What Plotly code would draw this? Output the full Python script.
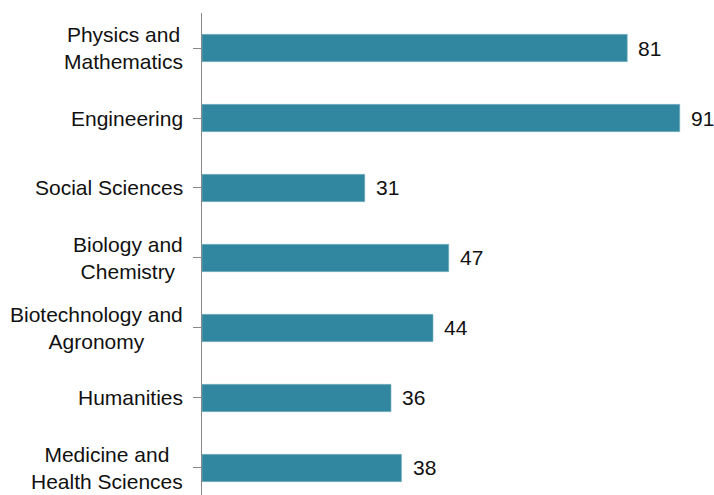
import plotly.graph_objects as go

categories = ["Physics and<br>Mathematics", "Engineering", "Social Sciences",
              "Biology and<br>Chemistry", "Biotechnology and<br>Agronomy",
              "Humanities", "Medicine and<br>Health Sciences"]
values = [81, 91, 31, 47, 44, 36, 38]
idx = list(range(len(categories)))

FONT = "Liberation Sans, Arial, sans-serif"

fig = go.Figure()
fig.add_trace(go.Bar(
    y=idx, x=values, orientation="h", width=0.39,
    marker=dict(color="#31879f", line=dict(color="#7fb3c4", width=0.6)),
    hoverinfo="skip",
))

for i, c in zip(idx, categories):
    fig.add_annotation(x=0, xref="paper", y=i, yref="y", text=c, showarrow=False,
                       xanchor="right", xshift=-17, align="center",
                       font=dict(family=FONT, size=21, color="#111"))

for i, v in zip(idx, values):
    fig.add_annotation(x=v, xref="x", y=i, yref="y", text=str(v), showarrow=False,
                       xanchor="left", xshift=9,
                       font=dict(family=FONT, size=21, color="#111"))

fig.update_layout(
    width=714, height=495,
    margin=dict(l=202, r=0, t=13, b=0),
    paper_bgcolor="white", plot_bgcolor="white",
    showlegend=False,
    xaxis=dict(range=[0, 97.52], visible=False, showgrid=False, zeroline=False),
    yaxis=dict(range=[6.386, -0.5], tickmode="array", tickvals=idx, ticktext=[""] * 7,
               showline=True, linecolor="#888", linewidth=1.2,
               ticks="outside", tickson="boundaries", ticklen=8, tickcolor="#888",
               showgrid=False, zeroline=False),
)
fig.write_html("out.html", config={"displayModeBar": False},
               post_script="document.body.style.margin='0';document.body.style.overflow='hidden';")
